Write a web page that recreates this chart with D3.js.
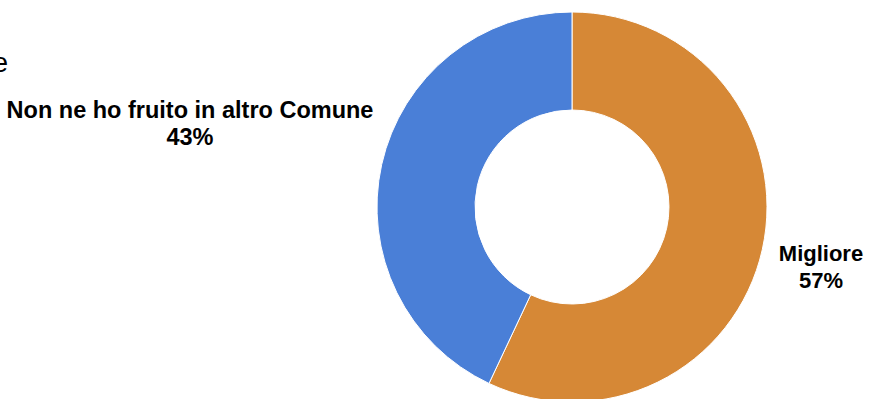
<!DOCTYPE html>
<html>
<head>
<meta charset="utf-8">
<script src="https://cdn.jsdelivr.net/npm/d3@7"></script>
<style>
  html, body { margin: 0; padding: 0; background: #fff; }
  svg { display: block; }
  text { font-family: "Liberation Sans", Arial, sans-serif; fill: #000; }
</style>
</head>
<body>
<svg id="chart" width="869" height="399"></svg>
<script>
const categories = ["Migliore", "Non ne ho fruito in altro Comune"];
const values = [57, 43];
const colors = ["#D68836", "#4A7FD7"];

const W = 869, H = 399;
const cx = 572, cy = 207, outerR = 195, innerR = 97;

const svg = d3.select("#chart");

// clipped fragment at left edge
svg.append("text")
  .attr("x", 8).attr("y", 72)
  .attr("text-anchor", "end")
  .style("font-size", "28px")
  .text("e");

const pie = d3.pie().sort(null).value(d => d)(values);
const arc = d3.arc().innerRadius(innerR).outerRadius(outerR);

const g = svg.append("g").attr("transform", `translate(${cx},${cy})`);
g.selectAll("path")
  .data(pie)
  .join("path")
  .attr("d", arc)
  .attr("fill", (d, i) => colors[i])
  .attr("stroke", "#fff")
  .attr("stroke-width", 1);

// label placement (layout, not data)
const labelX = [249, -382];
const labelY = [261, 118];
const labelSize = [22, 23.5];
const fmt = d3.format(".0%");
const total = d3.sum(values);

categories.forEach((c, i) => {
  const t = svg.append("text")
    .attr("text-anchor", "middle")
    .style("font-size", labelSize[i] + "px")
    .style("font-weight", "bold");
  t.append("tspan").attr("x", cx + labelX[i]).attr("y", labelY[i]).text(c);
  t.append("tspan").attr("x", cx + labelX[i]).attr("dy", 27).text(fmt(values[i] / total));
});
</script>
</body>
</html>
